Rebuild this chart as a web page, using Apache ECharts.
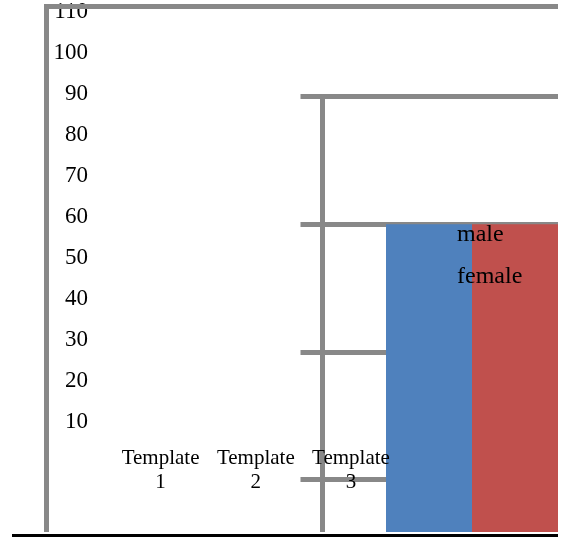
<!DOCTYPE html>
<html>
<head>
<meta charset="utf-8">
<script src="https://cdn.jsdelivr.net/npm/echarts@6/dist/echarts.min.js"></script>
<style>
  html, body { margin: 0; padding: 0; background: #ffffff; width: 561px; height: 537px; overflow: hidden; }
  #chart { position: absolute; left: 0; top: 0; width: 558px; height: 532px; overflow: hidden; }
  #baseline { position: absolute; left: 12px; top: 534px; width: 546px; height: 3px; background: #000; }
</style>
</head>
<body>
<div id="chart"></div>
<div id="baseline"></div>
<script>
// ---- data ----
const categories = ['Template 1', 'Template 2', 'Template 3'];
const seriesNames = ['male', 'female'];
const barCategories = [''];
const maleValues = [3];
const femaleValues = [3];
const leftAxisMin = 0;
const leftAxisMax = 110;
const leftAxisStep = 10;
const barAxisMin = 0;
const barAxisMax = 4;
const barAxisStep = 1;

const GRAY = '#888888';
const FONT = 'Liberation Serif';

const chart = echarts.init(document.getElementById('chart'), null, { renderer: 'canvas' });

const option = {
  animation: false,
  backgroundColor: '#ffffff',
  textStyle: { fontFamily: FONT, color: '#000' },
  legend: {
    data: seriesNames,
    orient: 'vertical',
    left: 452,
    top: 223,
    padding: 0,
    icon: 'none',
    itemWidth: 0,
    itemHeight: 14,
    itemGap: 18,
    selectedMode: false,
    z: 20,
    textStyle: { fontFamily: FONT, fontSize: 24, color: '#000' }
  },
  grid: [
    // 0: frame
    { left: 46.5, top: 6.5, width: 600, height: 600, outerBoundsMode: 'none' },
    // 1: left value labels
    { left: 47, top: 12, width: 400, height: 451, outerBoundsMode: 'none' },
    // 2: category labels
    { left: 113, top: 12, width: 285.6, height: 434, outerBoundsMode: 'none' },
    // 3: bar plot
    { left: 322.5, top: 96.5, width: 299, height: 510.5, outerBoundsMode: 'none' }
  ],
  xAxis: [
    { gridIndex: 0, type: 'value', position: 'top', min: 0, max: 1, z: 10,
      axisLine: { show: true, lineStyle: { color: GRAY, width: 5 } },
      axisTick: { show: false }, axisLabel: { show: false }, splitLine: { show: false } },
    { gridIndex: 1, type: 'value', show: false },
    { gridIndex: 2, type: 'category', data: categories, position: 'bottom', z: 15,
      axisLine: { show: false }, axisTick: { show: false }, splitLine: { show: false },
      axisLabel: { interval: 0, margin: 0, fontFamily: FONT, fontSize: 21, lineHeight: 24, color: '#000',
        formatter: v => v.replace(' ', '\n') } },
    { gridIndex: 3, type: 'category', data: barCategories, show: false }
  ],
  yAxis: [
    { gridIndex: 0, type: 'value', min: 0, max: 1, inverse: true, z: 10,
      axisLine: { show: true, lineStyle: { color: GRAY, width: 5, cap: 'square' } },
      axisTick: { show: false }, axisLabel: { show: false }, splitLine: { show: false } },
    { gridIndex: 1, type: 'value', min: leftAxisMin, max: leftAxisMax, interval: leftAxisStep,
      axisLine: { show: false }, axisTick: { show: false }, splitLine: { show: false },
      axisLabel: { show: true, showMinLabel: false, margin: -41, fontFamily: FONT, fontSize: 23, color: '#000' } },
    { gridIndex: 2, type: 'value', show: false },
    { gridIndex: 3, type: 'value', min: barAxisMin, max: barAxisMax, interval: barAxisStep,
      axisLine: { show: true, lineStyle: { color: GRAY, width: 5 } },
      axisTick: { show: true, inside: false, length: 22, lineStyle: { color: GRAY, width: 5 } },
      axisLabel: { show: false },
      splitLine: { show: true, lineStyle: { color: GRAY, width: 5, type: 'solid' } } }
  ],
  series: [
    { name: seriesNames[0], type: 'bar', xAxisIndex: 3, yAxisIndex: 3, data: maleValues,
      barWidth: 86, barGap: '0%', itemStyle: { color: '#4f81bd' } },
    { name: seriesNames[1], type: 'bar', xAxisIndex: 3, yAxisIndex: 3, data: femaleValues,
      barWidth: 86, barGap: '0%', itemStyle: { color: '#c0504d' } }
  ]
};
chart.setOption(option);
</script>
</body>
</html>
